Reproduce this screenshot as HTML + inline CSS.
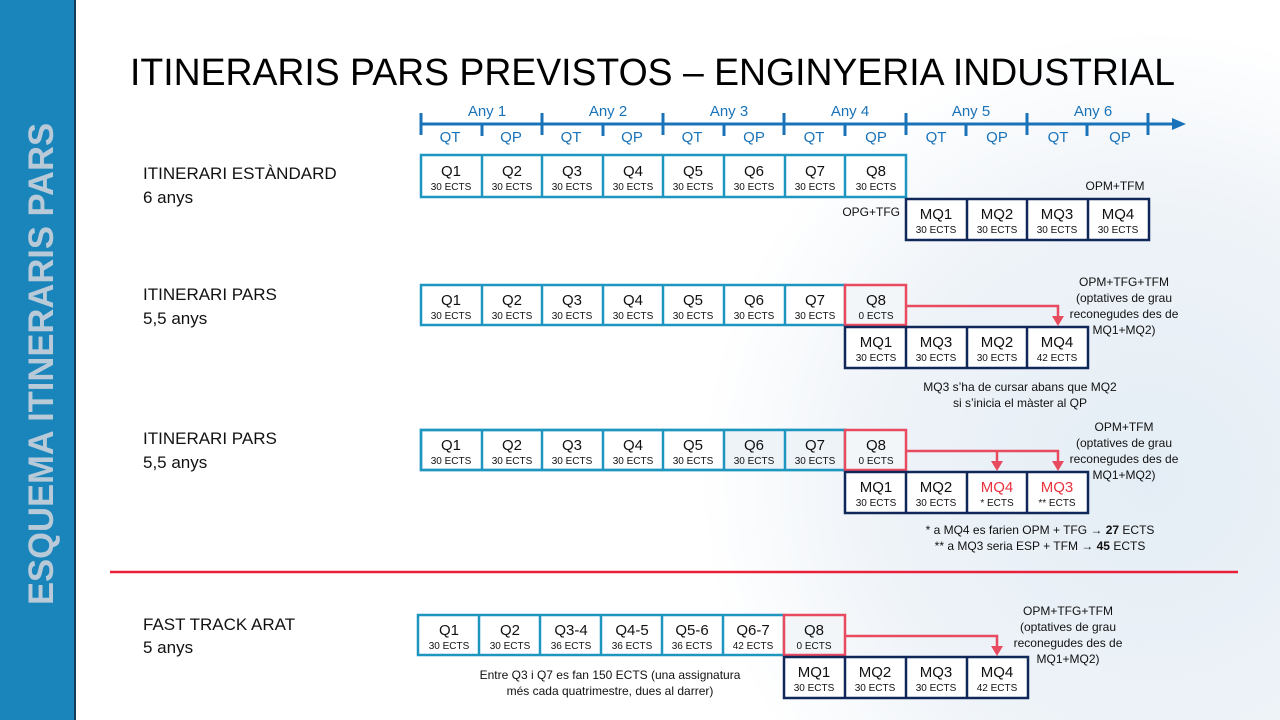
<!DOCTYPE html>
<html><head><meta charset="utf-8"><style>
html,body{margin:0;padding:0;background:#fff}
svg{display:block}
text{font-family:"Liberation Sans",Arial,sans-serif}
.q{font-size:15px;fill:#111;text-anchor:middle}
.e{font-size:10px;fill:#111;text-anchor:middle}
.n{font-size:12px;fill:#111;text-anchor:middle}
.b{fill:#fff;stroke:#1e96c0;stroke-width:2.5}
.m{fill:#fff;stroke:#10275a;stroke-width:2.5}
.r{fill:#f3f6f9;stroke:#e84a5f;stroke-width:2.5}
.a{stroke:#e84a5f;stroke-width:2.5;fill:none}
.ah{fill:#e84a5f}
.lb{font-size:17px;fill:#111}
.tl{font-size:15px;fill:#1a73b8;text-anchor:middle}
</style></head><body>
<svg width="1280" height="720" viewBox="0 0 1280 720" xmlns="http://www.w3.org/2000/svg">
<defs>
<radialGradient id="wm" cx="1150" cy="480" r="450" gradientUnits="userSpaceOnUse">
<stop offset="0" stop-color="#e4edf5"/><stop offset="0.6" stop-color="#eef3f8"/><stop offset="1" stop-color="#ffffff"/>
</radialGradient>
</defs>
<rect width="1280" height="720" fill="url(#wm)"/>
<rect x="0" y="0" width="75" height="720" fill="#1a85bb"/>
<rect x="74" y="0" width="2" height="720" fill="#163a5c"/>
<text transform="translate(53,605) rotate(-90)" font-size="35" font-weight="bold" fill="#b8cad8" textLength="482" lengthAdjust="spacingAndGlyphs">ESQUEMA ITINERARIS PARS</text>

<text x="130" y="85" font-size="38" fill="#000" textLength="1045" lengthAdjust="spacingAndGlyphs">ITINERARIS PARS PREVISTOS – ENGINYERIA INDUSTRIAL</text>

<g stroke="#1a73b8" stroke-width="3">
<line x1="421" y1="124" x2="1174" y2="124"/>
<line x1="421" y1="113" x2="421" y2="135"/><line x1="542" y1="113" x2="542" y2="135"/><line x1="663" y1="113" x2="663" y2="135"/><line x1="784" y1="113" x2="784" y2="135"/><line x1="906" y1="113" x2="906" y2="135"/><line x1="1027" y1="113" x2="1027" y2="135"/><line x1="1148" y1="113" x2="1148" y2="135"/>
<line x1="482" y1="124" x2="482" y2="136"/><line x1="603" y1="124" x2="603" y2="136"/><line x1="724" y1="124" x2="724" y2="136"/><line x1="845" y1="124" x2="845" y2="136"/><line x1="966" y1="124" x2="966" y2="136"/><line x1="1087" y1="124" x2="1087" y2="136"/>
</g>
<polygon points="1172,118 1186,124 1172,130" fill="#1a73b8"/>
<text class="tl" x="487" y="116">Any 1</text><text class="tl" x="608" y="116">Any 2</text><text class="tl" x="729" y="116">Any 3</text><text class="tl" x="850" y="116">Any 4</text><text class="tl" x="971" y="116">Any 5</text><text class="tl" x="1093" y="116">Any 6</text>
<text class="tl" x="450" y="142">QT</text><text class="tl" x="511" y="142">QP</text>
<text class="tl" x="571" y="142">QT</text><text class="tl" x="632" y="142">QP</text>
<text class="tl" x="692" y="142">QT</text><text class="tl" x="754" y="142">QP</text>
<text class="tl" x="814" y="142">QT</text><text class="tl" x="876" y="142">QP</text>
<text class="tl" x="936" y="142">QT</text><text class="tl" x="997" y="142">QP</text>
<text class="tl" x="1058" y="142">QT</text><text class="tl" x="1120" y="142">QP</text>

<!-- Row 1 -->
<text class="lb" x="143" y="179">ITINERARI ESTÀNDARD</text>
<text class="lb" x="143" y="203">6 anys</text>
<rect class="b" x="421" y="155" width="485" height="42"/>
<g stroke="#1e96c0" stroke-width="2.5"><line x1="482" y1="155" x2="482" y2="197"/><line x1="542" y1="155" x2="542" y2="197"/><line x1="603" y1="155" x2="603" y2="197"/><line x1="663" y1="155" x2="663" y2="197"/><line x1="724" y1="155" x2="724" y2="197"/><line x1="785" y1="155" x2="785" y2="197"/><line x1="845" y1="155" x2="845" y2="197"/></g>
<text class="q" x="451" y="176">Q1</text><text class="e" x="451" y="190">30 ECTS</text>
<text class="q" x="512" y="176">Q2</text><text class="e" x="512" y="190">30 ECTS</text>
<text class="q" x="572" y="176">Q3</text><text class="e" x="572" y="190">30 ECTS</text>
<text class="q" x="633" y="176">Q4</text><text class="e" x="633" y="190">30 ECTS</text>
<text class="q" x="693" y="176">Q5</text><text class="e" x="693" y="190">30 ECTS</text>
<text class="q" x="754" y="176">Q6</text><text class="e" x="754" y="190">30 ECTS</text>
<text class="q" x="815" y="176">Q7</text><text class="e" x="815" y="190">30 ECTS</text>
<text class="q" x="876" y="176">Q8</text><text class="e" x="876" y="190">30 ECTS</text>
<text class="n" x="900" y="216" style="text-anchor:end">OPG+TFG</text>
<text class="n" x="1115" y="190">OPM+TFM</text>
<rect class="m" x="906" y="199" width="243" height="41"/>
<g stroke="#10275a" stroke-width="2.5"><line x1="967" y1="199" x2="967" y2="240"/><line x1="1027" y1="199" x2="1027" y2="240"/><line x1="1088" y1="199" x2="1088" y2="240"/></g>
<text class="q" x="936" y="219">MQ1</text><text class="e" x="936" y="233">30 ECTS</text>
<text class="q" x="997" y="219">MQ2</text><text class="e" x="997" y="233">30 ECTS</text>
<text class="q" x="1057" y="219">MQ3</text><text class="e" x="1057" y="233">30 ECTS</text>
<text class="q" x="1118" y="219">MQ4</text><text class="e" x="1118" y="233">30 ECTS</text>

<!-- Row 2 -->
<text class="lb" x="143" y="300">ITINERARI PARS</text>
<text class="lb" x="143" y="324">5,5 anys</text>
<rect class="b" x="421" y="285" width="424" height="40"/>
<g stroke="#1e96c0" stroke-width="2.5"><line x1="482" y1="285" x2="482" y2="325"/><line x1="542" y1="285" x2="542" y2="325"/><line x1="603" y1="285" x2="603" y2="325"/><line x1="663" y1="285" x2="663" y2="325"/><line x1="724" y1="285" x2="724" y2="325"/><line x1="785" y1="285" x2="785" y2="325"/></g>
<rect class="r" x="845" y="285" width="61" height="40"/>
<text class="q" x="451" y="305">Q1</text><text class="e" x="451" y="319">30 ECTS</text>
<text class="q" x="512" y="305">Q2</text><text class="e" x="512" y="319">30 ECTS</text>
<text class="q" x="572" y="305">Q3</text><text class="e" x="572" y="319">30 ECTS</text>
<text class="q" x="633" y="305">Q4</text><text class="e" x="633" y="319">30 ECTS</text>
<text class="q" x="693" y="305">Q5</text><text class="e" x="693" y="319">30 ECTS</text>
<text class="q" x="754" y="305">Q6</text><text class="e" x="754" y="319">30 ECTS</text>
<text class="q" x="815" y="305">Q7</text><text class="e" x="815" y="319">30 ECTS</text>
<text class="q" x="876" y="305">Q8</text><text class="e" x="876" y="319">0 ECTS</text>
<rect class="m" x="845" y="327" width="243" height="41"/>
<g stroke="#10275a" stroke-width="2.5"><line x1="906" y1="327" x2="906" y2="368"/><line x1="967" y1="327" x2="967" y2="368"/><line x1="1027" y1="327" x2="1027" y2="368"/></g>
<text class="q" x="876" y="347">MQ1</text><text class="e" x="876" y="361">30 ECTS</text>
<text class="q" x="936" y="347">MQ3</text><text class="e" x="936" y="361">30 ECTS</text>
<text class="q" x="997" y="347">MQ2</text><text class="e" x="997" y="361">30 ECTS</text>
<text class="q" x="1057" y="347">MQ4</text><text class="e" x="1057" y="361">42 ECTS</text>
<polyline class="a" points="906,306 1058,306 1058,318"/>
<polygon class="ah" points="1052,316 1064,316 1058,326"/>
<text class="n" x="1124" y="286">OPM+TFG+TFM</text>
<text class="n" x="1124" y="302">(optatives de grau</text>
<text class="n" x="1124" y="318">reconegudes des de</text>
<text class="n" x="1124" y="334">MQ1+MQ2)</text>
<text class="n" x="1020" y="391">MQ3 s’ha de cursar abans que MQ2</text>
<text class="n" x="1020" y="407">si s’inicia el màster al QP</text>

<!-- Row 3 -->
<text class="lb" x="143" y="444">ITINERARI PARS</text>
<text class="lb" x="143" y="468">5,5 anys</text>
<rect class="b" x="421" y="430" width="424" height="40"/>
<rect x="724" y="430" width="121" height="40" fill="#eef3f8"/>
<rect x="421" y="430" width="424" height="40" fill="none" stroke="#1e96c0" stroke-width="2.5"/>
<g stroke="#1e96c0" stroke-width="2.5"><line x1="482" y1="430" x2="482" y2="470"/><line x1="542" y1="430" x2="542" y2="470"/><line x1="603" y1="430" x2="603" y2="470"/><line x1="663" y1="430" x2="663" y2="470"/><line x1="724" y1="430" x2="724" y2="470"/><line x1="785" y1="430" x2="785" y2="470"/></g>
<rect class="r" x="845" y="430" width="61" height="40"/>
<text class="q" x="451" y="450">Q1</text><text class="e" x="451" y="464">30 ECTS</text>
<text class="q" x="512" y="450">Q2</text><text class="e" x="512" y="464">30 ECTS</text>
<text class="q" x="572" y="450">Q3</text><text class="e" x="572" y="464">30 ECTS</text>
<text class="q" x="633" y="450">Q4</text><text class="e" x="633" y="464">30 ECTS</text>
<text class="q" x="693" y="450">Q5</text><text class="e" x="693" y="464">30 ECTS</text>
<text class="q" x="754" y="450">Q6</text><text class="e" x="754" y="464">30 ECTS</text>
<text class="q" x="815" y="450">Q7</text><text class="e" x="815" y="464">30 ECTS</text>
<text class="q" x="876" y="450">Q8</text><text class="e" x="876" y="464">0 ECTS</text>
<rect class="m" x="845" y="472" width="243" height="41"/>
<g stroke="#10275a" stroke-width="2.5"><line x1="906" y1="472" x2="906" y2="513"/><line x1="967" y1="472" x2="967" y2="513"/><line x1="1027" y1="472" x2="1027" y2="513"/></g>
<text class="q" x="876" y="492">MQ1</text><text class="e" x="876" y="506">30 ECTS</text>
<text class="q" x="936" y="492">MQ2</text><text class="e" x="936" y="506">30 ECTS</text>
<text class="q" x="997" y="492" style="fill:#e8333f">MQ4</text><text class="e" x="997" y="506">* ECTS</text>
<text class="q" x="1057" y="492" style="fill:#e8333f">MQ3</text><text class="e" x="1057" y="506">** ECTS</text>
<polyline class="a" points="906,451 1058,451 1058,463"/>
<line class="a" x1="997" y1="451" x2="997" y2="463"/>
<polygon class="ah" points="991,461 1003,461 997,471"/>
<polygon class="ah" points="1052,461 1064,461 1058,471"/>
<text class="n" x="1124" y="431">OPM+TFM</text>
<text class="n" x="1124" y="447">(optatives de grau</text>
<text class="n" x="1124" y="463">reconegudes des de</text>
<text class="n" x="1124" y="479">MQ1+MQ2)</text>
<text class="n" x="1040" y="534">* a MQ4 es farien  OPM + TFG  → <tspan font-weight="bold">27</tspan> ECTS</text>
<text class="n" x="1040" y="550">** a MQ3 seria ESP + TFM → <tspan font-weight="bold">45</tspan> ECTS</text>

<line x1="110" y1="572" x2="1238" y2="572" stroke="#e8203a" stroke-width="2.5"/>

<!-- Row 4 -->
<text class="lb" x="143" y="630">FAST TRACK ARAT</text>
<text class="lb" x="143" y="653">5 anys</text>
<rect class="b" x="418" y="615" width="366" height="40"/>
<g stroke="#1e96c0" stroke-width="2.5"><line x1="479" y1="615" x2="479" y2="655"/><line x1="540" y1="615" x2="540" y2="655"/><line x1="601" y1="615" x2="601" y2="655"/><line x1="662" y1="615" x2="662" y2="655"/><line x1="723" y1="615" x2="723" y2="655"/></g>
<rect class="r" x="784" y="615" width="61" height="40"/>
<text class="q" x="449" y="635">Q1</text><text class="e" x="449" y="649">30 ECTS</text>
<text class="q" x="510" y="635">Q2</text><text class="e" x="510" y="649">30 ECTS</text>
<text class="q" x="571" y="635">Q3-4</text><text class="e" x="571" y="649">36 ECTS</text>
<text class="q" x="632" y="635">Q4-5</text><text class="e" x="632" y="649">36 ECTS</text>
<text class="q" x="692" y="635">Q5-6</text><text class="e" x="692" y="649">36 ECTS</text>
<text class="q" x="753" y="635">Q6-7</text><text class="e" x="753" y="649">42 ECTS</text>
<text class="q" x="814" y="635">Q8</text><text class="e" x="814" y="649">0 ECTS</text>
<rect class="m" x="784" y="657" width="244" height="41"/>
<g stroke="#10275a" stroke-width="2.5"><line x1="845" y1="657" x2="845" y2="698"/><line x1="906" y1="657" x2="906" y2="698"/><line x1="967" y1="657" x2="967" y2="698"/></g>
<text class="q" x="814" y="677">MQ1</text><text class="e" x="814" y="691">30 ECTS</text>
<text class="q" x="875" y="677">MQ2</text><text class="e" x="875" y="691">30 ECTS</text>
<text class="q" x="936" y="677">MQ3</text><text class="e" x="936" y="691">30 ECTS</text>
<text class="q" x="997" y="677">MQ4</text><text class="e" x="997" y="691">42 ECTS</text>
<polyline class="a" points="845,636 997,636 997,648"/>
<polygon class="ah" points="991,646 1003,646 997,656"/>
<text class="n" x="1068" y="615">OPM+TFG+TFM</text>
<text class="n" x="1068" y="631">(optatives de grau</text>
<text class="n" x="1068" y="647">reconegudes des de</text>
<text class="n" x="1068" y="663">MQ1+MQ2)</text>
<text class="n" x="610" y="679">Entre Q3 i Q7 es fan 150 ECTS (una assignatura</text>
<text class="n" x="610" y="695">més cada quatrimestre, dues al darrer)</text>
</svg>
</body></html>
